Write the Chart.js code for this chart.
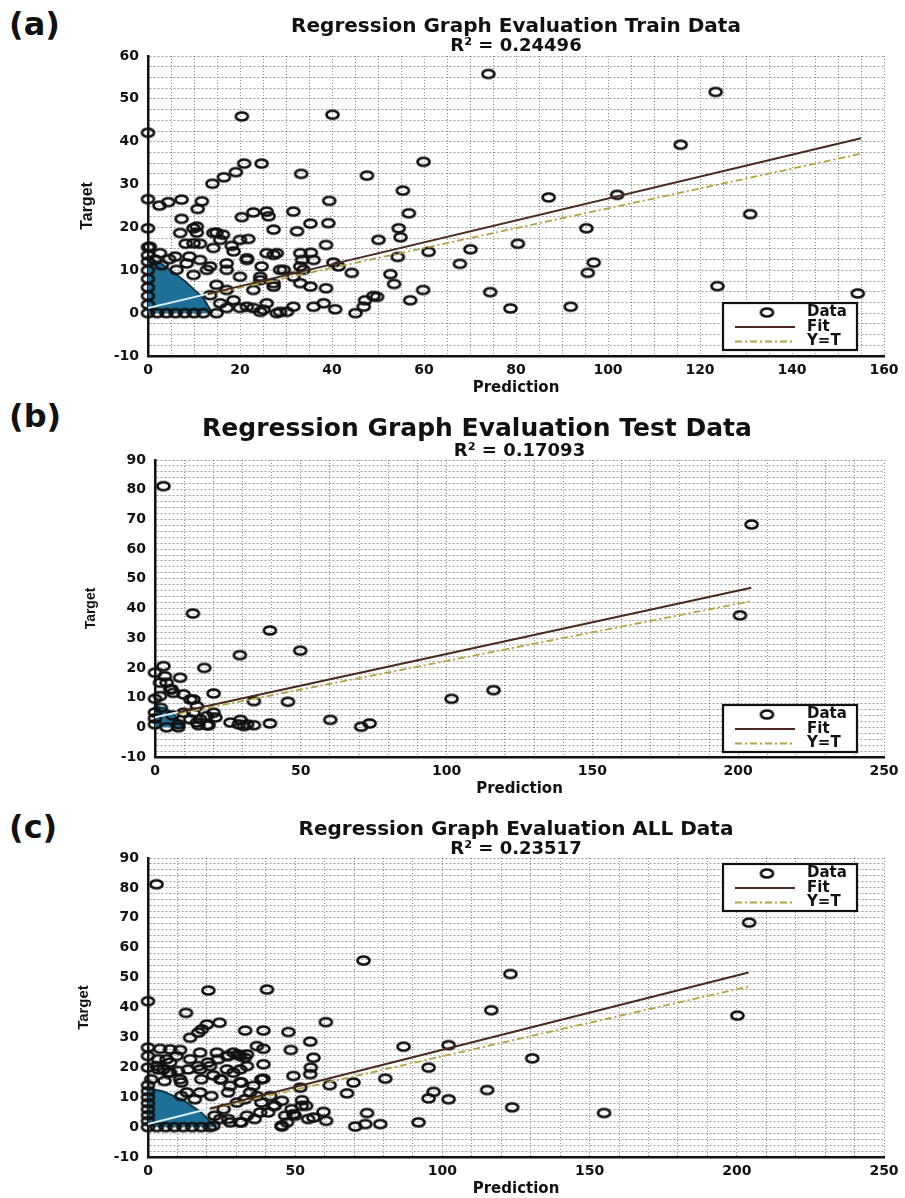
<!DOCTYPE html>
<html>
<head>
<meta charset="utf-8">
<script src="https://cdn.jsdelivr.net/npm/chart.js@4.4.0/dist/chart.umd.min.js"></script>
<style>
body { margin: 0; background: #fff; width: 905px; height: 1198px; position: relative; overflow: hidden; font-family: 'DejaVu Sans', sans-serif; }
.tag { position: absolute; left: 9px; font-weight: bold; font-size: 32px; line-height: 32px; color: #111; }
canvas { position: absolute; left: 0; }
</style>
</head>
<body>
<div class="tag" style="top:8px">(a)</div>
<div class="tag" style="top:400px">(b)</div>
<div class="tag" style="top:811px">(c)</div>
<canvas id="trainChart" width="905" height="400" style="top:0"></canvas>
<canvas id="testChart" width="905" height="400" style="top:400px"></canvas>
<canvas id="allChart" width="905" height="398" style="top:800px"></canvas>
<script>
// ---- (a) train data: [prediction, target]
const trainPoints = [
  [0,42.1],[20.4,45.9],[40.1,46.3],[74,55.8],[123.4,51.6],[115.8,39.3],[59.9,35.3],[20.9,34.9],[24.7,34.9],
  [19.1,32.9],[16.5,31.7],[14.0,30.2],[33.3,32.5],[47.6,32.1],[55.4,28.6],[39.4,26.2],[87.1,27.0],[102.0,27.6],
  [130.9,23.1],[95.3,19.8],[80.4,16.2],[96.9,11.8],[95.6,9.4],[74.4,4.9],[123.8,6.3],[154.3,4.6],[78.8,1.1],[91.9,1.5],
  [0,26.6],[2.5,25.1],[4.4,25.9],[7.3,26.5],[11.7,26.1],[10.8,24.3],[20.4,22.4],[22.9,23.5],[25.8,23.7],[26.2,22.6],
  [31.6,23.7],[56.7,23.3],[7.3,22.0],[35.3,20.9],[39.2,21.0],[0,19.8],[27.3,19.5],[32.4,19.1],[10.6,20.2],[10.6,18.8],
  [14.9,18.8],[16.3,18.3],[54.5,19.8],[54.9,17.7],[21.8,17.3],[50.1,17.1],[8.2,16.2],[11.3,16.2],[0,15.4],[18.2,15.7],
  [38.7,15.9],[27.3,13.6],[35.4,14.1],[33.5,12.4],[36.0,12.4],[61.0,14.3],[70.1,14.9],[54.3,13.1],[9.0,13.2],[4.6,12.6],
  [21.5,12.4],[24.7,10.9],[29.5,10.1],[33.8,10.1],[40.3,11.8],[41.4,10.9],[44.3,9.4],[67.8,11.5],[52.7,9.1],[53.5,6.8],
  [13.5,10.9],[17.1,10.1],[20.0,8.5],[24.4,7.7],[27.3,7.0],[33.1,7.0],[35.3,6.2],[38.7,5.8],[59.8,5.4],[57.0,3.0],
  [47.2,3.0],[49.0,4.0],[49.8,3.8],[36.0,1.5],[40.7,0.9],[38.2,2.3],[45.1,0],[46.9,1.5],[28.7,0.3],[30.2,0.3],
  [25.1,0.8],[22.9,1.2],[20.0,1.2],[17.1,1.2],[14.9,0],
  [0.4,15.5],[2.6,14],[5.9,13.2],[8.4,11.6],[11.3,12.4],[6.2,10.1],[9.9,8.9],[12.8,10.1],[14.9,6.6],[17.1,5.4],
  [13.5,4.2],[15.7,2.3],[18.6,3.0],[21.5,1.5],[24.4,0.3],[28.0,0],[25.8,2.3],[31.6,1.5],[22.9,5.4],[27.3,6.2],
  [31.6,8.5],[28.7,10.1],[33.1,10.9],[21.5,12.8],[25.8,14.0],[17.1,11.6],[18.6,14.4],[14.2,15.2],[9.9,16.3],[7.0,18.7],
  [9.9,19.8],[14.2,18.7],[15.7,17.1],[20.0,17.1],[28.0,14.0],[33.1,14.0],[24.4,8.5],
  [0,0],[0,2],[0,4],[0,6],[0,8],[0,10],[0,12],[0,13.5],[2,0],[4,0],[6,0],[8,0],[10,0],[12,0],[1.5,12.5],[3,11.2]
];
const trainCore = [[0,13],[3,11.5],[8,7.5],[12,3.5],[14,0]];
const trainFit = [[0,1.2],[13,4.5],[155,40.8]];
const trainYT = [[13,4.3],[155,37.2]];
const trainXLabels = [0,20,40,60,80,100,120,140,160];
const trainYLabels = [-10,0,10,20,30,40,50,60];

// ---- (b) test data
const testPoints = [
  [2.9,81.2],[13.0,38.3],[39.4,32.6],[49.8,25.8],[29.1,24.3],[16.9,20.0],[2.9,20.6],[0,18.4],[8.6,16.7],[3.4,17.2],
  [1.7,15.0],[20.1,11.4],[5.7,12.8],[9.8,11.1],[12.1,9.4],[0,9.6],[33.9,8.8],[45.6,8.6],[101.7,9.6],[116.1,12.5],
  [20.1,4.9],[20.7,3.3],[13.2,4.9],[15.5,2.7],[17.8,0.7],[25.9,1.6],[29.3,2.5],[31.6,1.0],[33.9,0.7],[30.5,0.4],
  [28.7,1.0],[39.4,1.3],[60.1,2.5],[70.7,0.2],[73.6,1.3],[14.9,0.7],[18.4,0.7],[204.6,68.3],[200.6,37.7],[4.0,15.0],
  [5.2,12.8],[1.7,10.5],[6.3,11.6],[13.2,9.4],[14.4,7.1],[9.8,4.9],[12.1,2.7],[14.4,1.6],[17.8,3.8],[0,5],
  [0,3],[2,6.5],[6,4],[8,1],[0,1],[4,0],[8,0]
];
const testCore = [[0,7],[3,6.5],[6,5],[8.5,2],[9.5,0]];
const testFit = [[0,3.4],[8,5.1],[204.5,47]];
const testYT = [[8,4.6],[204.5,42.5]];
const testXLabels = [0,50,100,150,200,250];
const testYLabels = [-10,0,10,20,30,40,50,60,70,80,90];

// ---- (c) all data
const allPoints = [
  [2.9,81.2],[73.2,55.7],[20.5,45.7],[40.4,46.0],[0,42.1],[12.9,38.2],[116.6,39.1],[60.4,35.1],[20.0,34.3],[24.3,34.9],
  [14.3,29.9],[17.1,31.6],[18.3,32.7],[33.0,32.3],[39.2,32.3],[47.7,31.8],[55.1,28.6],[39.2,26.2],[48.5,25.8],[86.8,26.9],
  [102.1,27.4],[0,26.6],[4.1,26.2],[7.5,26.0],[10.9,25.8],[56.2,23.2],[55.3,19.9],[55.1,17.7],[49.4,17.1],[39.2,21.0],
  [39.2,16.2],[22.2,17.3],[95.3,19.9],[80.6,16.2],[69.8,14.9],[61.7,14.0],[51.7,13.2],[97.0,11.8],[95.3,9.6],[102.1,9.3],
  [115.2,12.4],[67.6,11.3],[52.3,9.0],[53.7,7.1],[45.5,8.8],[74.4,4.7],[59.6,5.1],[60.5,2.1],[56.2,3.2],[46.6,3.8],
  [49.4,4.3],[47.2,1.6],[45.5,0.2],[70.4,0.2],[73.8,1.0],[78.9,1.0],[91.9,1.6],
  [204.2,68.4],[200.2,37.3],[123.1,51.2],[130.5,23.0],[123.7,6.6],[154.9,4.7],
  [34.7,11.6],[35.8,13.8],[29.0,18.2],[26.8,19.3],[31.3,19.3],[33.6,20.4],[26.8,23.8],[31.3,23.8],[29.0,24.9],[33.6,24.3],
  [37.0,27.1],[23.4,24.9],[17.7,24.9],[14.3,22.7],[17.7,19.3],[21.1,20.4],[24.5,16],[27.9,13.8],[31.3,15.0],[37.0,10.4],
  [41.5,10.4],[42.6,7.1],[38.1,4.9],[33.6,3.8],[31.3,1.6],[27.9,1.6],[24.5,2.7],[22.2,0.4],[25.7,6.0],[30.2,8.2],
  [17.7,11.6],[13.2,11.6],[10.9,16],[7.5,18.2],[5.2,19.3],[3.0,20.4],[6.3,22.7],[9.7,23.8],
  [0,23.8],[3.4,22.7],[7.5,21.6],[0,19.9],[3.4,19.3],[6.8,18.2],[10.2,18.8],[13.6,19.3],[17.0,20.4],[20.4,21.6],
  [23.8,22.7],[27.2,23.8],[30.6,24.3],[32.9,23.2],[1.1,16],[5.6,15.4],[11.3,14.9],[18.1,16],[24.9,16],[31.7,14.9],
  [38.5,16],[11.3,10.4],[15.9,9.3],[21.5,10.4],[27.2,11.6],[32.9,9.3],[38.5,8.2],[43.1,7.1],[48.8,6.0],[52.2,7.1],
  [22.6,3.8],[27.2,2.7],[31.7,1.6],[36.2,2.7],[40.8,4.9],[45.4,0.5],[49.9,3.8],[54.4,2.7],
  [0,0],[0,2],[0,4],[0,6],[0,8],[0,10],[0,12],[0,14],[3,0],[6,0],[9,0],[12,0],[15,0],[18,0],[21,0]
];
const allCore = [[0,13],[5,12],[12,9],[18,5],[22,1],[22.5,0]];
const allFit = [[0,1.0],[21,6.2],[204,51.7]];
const allYT = [[21,6.0],[204,47]];
const allXLabels = [0,50,100,150,200,250];
const allYLabels = [-10,0,10,20,30,40,50,60,70,80,90];

const fitColor = '#4a2a1e';
const ytColor = '#b3a23e';
const coreColor = '#1f7097';

Chart.defaults.font.family = "'DejaVu Sans', sans-serif";
Chart.defaults.font.weight = 'bold';
Chart.defaults.color = '#111';

// open ring marker, a bit wider than tall like the original figure
function ringMarker() {
  const c = document.createElement('canvas');
  c.width = 17; c.height = 13;
  const g = c.getContext('2d');
  g.lineWidth = 2.7;
  g.strokeStyle = '#111';
  g.beginPath();
  g.ellipse(8.5, 6.5, 6, 4, 0, 0, Math.PI * 2);
  g.stroke();
  return c;
}
const ring = ringMarker();

// boxed legend drawn inside the plot area
const boxLegend = {
  id: 'boxLegend',
  afterDraw(chart, args, opts) {
    const ctx = chart.ctx, a = chart.chartArea;
    const w = 134, h = 47;
    const x = a.right - opts.dx - w;
    const y = opts.anchor === 'top' ? a.top + opts.dy : a.bottom - opts.dy - h;
    ctx.save();
    ctx.fillStyle = '#fff';
    ctx.fillRect(x, y, w, h);
    ctx.lineWidth = 2.2;
    ctx.strokeStyle = '#111';
    ctx.strokeRect(x, y, w, h);
    ctx.font = 'bold 15px "DejaVu Sans"';
    ctx.textBaseline = 'middle';
    chart.data.datasets.filter(d => d.legendRow !== undefined).forEach(d => {
      const cy = y + 9.5 + d.legendRow * 14.5;
      if (d.showLine) {
        ctx.strokeStyle = d.borderColor;
        ctx.lineWidth = d.borderWidth;
        ctx.setLineDash(d.borderDash || []);
        ctx.beginPath();
        ctx.moveTo(x + 12, cy);
        ctx.lineTo(x + 72, cy);
        ctx.stroke();
        ctx.setLineDash([]);
      } else {
        ctx.drawImage(ring, x + 44 - ring.width / 2, cy - ring.height / 2);
      }
      ctx.fillStyle = '#111';
      ctx.fillText(d.label, x + 84, cy);
    });
    ctx.restore();
  }
};

const xy = arr => arr.map(p => ({x: p[0], y: p[1]}));

function makePanel(id, c) {
  new Chart(document.getElementById(id), {
    type: 'scatter',
    data: {
      datasets: [
        { label: 'core', data: xy(c.core), showLine: true, fill: 'origin', backgroundColor: coreColor,
          borderColor: '#0e3a50', borderWidth: 2, pointRadius: 0, order: 4 },
        { label: 'Data', data: xy(c.points), pointStyle: ring, pointRadius: 6, clip: false, order: 3, legendRow: 0 },
        { label: 'Y=T', data: xy(c.yt), showLine: true, borderColor: ytColor, borderWidth: 1.8,
          borderDash: [7, 3, 2, 3], pointRadius: 0, order: 2, legendRow: 2 },
        { label: 'Fit', data: xy(c.fit), showLine: true, borderColor: fitColor, borderWidth: 2, pointRadius: 0, order: 1, legendRow: 1,
          segment: { borderColor: s => s.p0.parsed.x < c.fit[1][0] ? '#d6eef6' : fitColor } }
      ]
    },
    options: {
      responsive: false,
      animation: false,
      devicePixelRatio: 1,
      layout: { padding: { top: c.padTop, left: 70, right: 21, bottom: c.padBottom } },
      plugins: {
        legend: { display: false },
        tooltip: { enabled: false },
        title: { display: true, text: c.title, fullSize: c.titleFull, color: '#111',
          font: { size: c.titleSize, weight: 'bold', lineHeight: 1 }, padding: { top: c.titlePad, bottom: 0 } },
        subtitle: { display: true, text: c.r2, fullSize: false, color: '#111',
          font: { size: 18, weight: 'bold', lineHeight: 1 }, padding: { top: 0, bottom: c.subPad } },
        boxLegend: c.legend
      },
      scales: {
        x: {
          type: 'linear', min: c.xMin, max: c.xMax,
          afterFit: s => { s.height = 40; },
          ticks: { stepSize: c.xStep, autoSkip: false, maxRotation: 0, minRotation: 0, padding: 6, color: '#111',
            font: { size: 14, weight: 'bold' }, callback: v => c.xLabels.includes(v) ? v : '' },
          grid: { color: 'rgba(0,0,0,0.45)', lineWidth: 1, drawTicks: false },
          border: { display: true, color: '#111', width: 2.5, dash: [1, 2] },
          title: { display: true, text: 'Prediction', color: '#111', font: { size: 15, weight: 'bold', lineHeight: 1 }, padding: { top: 0, bottom: 0 } }
        },
        y: {
          type: 'linear', min: c.yMin, max: c.yMax,
          afterFit: s => { s.width = c.yWidth; },
          ticks: { stepSize: c.yStep, autoSkip: false, padding: 9, color: '#111',
            font: { size: 14, weight: 'bold' }, callback: v => c.yLabels.includes(v) ? v : '' },
          grid: { color: 'rgba(0,0,0,0.38)', lineWidth: 1, drawTicks: false },
          border: { display: true, color: '#111', width: 2.5, dash: [2, 2] },
          title: { display: true, text: 'Target', color: '#111',
            font: { family: "'Liberation Sans', sans-serif", size: c.targetSize, weight: 'bold', lineHeight: 1 },
            padding: { top: c.targetPad, bottom: 0 } }
        }
      }
    },
    plugins: [boxLegend]
  });
}

makePanel('trainChart', {
  points: trainPoints, core: trainCore, fit: trainFit, yt: trainYT,
  xLabels: trainXLabels, yLabels: trainYLabels,
  xMin: 0, xMax: 160, xStep: 5, yMin: -10, yMax: 60, yStep: 2.5,
  title: 'Regression Graph Evaluation Train Data', r2: 'R\u00B2 = 0.24496',
  titleSize: 20, titleFull: false, titlePad: 10, subPad: 1, padTop: 7, padBottom: 4,
  yWidth: 78, targetSize: 16, targetPad: 10,
  legend: { anchor: 'bottom', dx: 27, dy: 6 }
});

makePanel('testChart', {
  points: testPoints, core: testCore, fit: testFit, yt: testYT,
  xLabels: testXLabels, yLabels: testYLabels,
  xMin: 0, xMax: 250, xStep: 10, yMin: -10, yMax: 90, yStep: 2,
  title: 'Regression Graph Evaluation Test Data', r2: 'R\u00B2 = 0.17093',
  titleSize: 25, titleFull: true, titlePad: 7, subPad: 0, padTop: 10, padBottom: 3,
  yWidth: 85, targetSize: 14, targetPad: 14,
  legend: { anchor: 'bottom', dx: 27, dy: 5 }
});

makePanel('allChart', {
  points: allPoints, core: allCore, fit: allFit, yt: allYT,
  xLabels: allXLabels, yLabels: allYLabels,
  xMin: 0, xMax: 250, xStep: 10, yMin: -10, yMax: 90, yStep: 2,
  title: 'Regression Graph Evaluation ALL Data', r2: 'R\u00B2 = 0.23517',
  titleSize: 20, titleFull: false, titlePad: 10, subPad: 0, padTop: 10, padBottom: 1,
  yWidth: 78, targetSize: 15, targetPad: 6,
  legend: { anchor: 'top', dx: 27, dy: 6 }
});
</script>
</body>
</html>
